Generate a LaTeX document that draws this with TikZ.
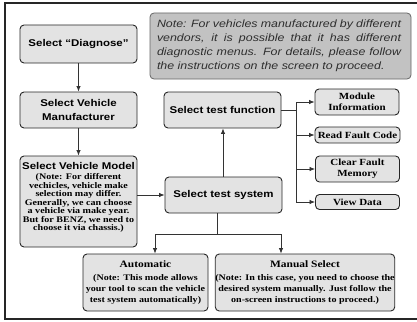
\documentclass[tikz,border=0pt]{standalone}
\usepackage{fontspec}
\usetikzlibrary{arrows.meta,calc}
\newfontfamily\hsans[FakeStretch=1.17]{Liberation Sans}
\newfontfamily\tserif[FakeStretch=1.17]{Liberation Serif}
\begin{document}
\begin{tikzpicture}[x=1pt,y=-1pt,
  box/.style={draw=black!85,line width=0.9pt,fill=black!11,rounded corners=4pt,inner sep=0pt,align=center},
  ttl/.style={font=\hsans\bfseries\fontsize{9.8}{12}\selectfont},
  rbox/.style={box,font=\tserif\bfseries\fontsize{9.4}{11}\selectfont},
  sbox/.style={box,font=\tserif\bfseries\fontsize{8.6}{11}\selectfont},
  conn/.style={draw=black!80,line width=0.8pt},
  arr/.style={conn,-{Latex[length=5.5pt,width=4.5pt]}}]
\useasboundingbox (0,0) rectangle (417,321);
\draw[line width=1.4pt,black!85] (5,3) rectangle (425,319);

% note
\node[draw=black!60,fill=black!24,rounded corners=4pt,line width=0.8pt,
      minimum width=261pt,minimum height=66pt,inner sep=0pt] (note) at (280.5,46) {};
\node[inner sep=0pt,align=left,text=black!82,
      font=\hsans\itshape\fontsize{10.6}{14}\selectfont] (notetxt) at (279,46)
 {\hbox to 244pt{Note: For vehicles manufactured by different}\\
  \hbox to 244pt{vendors, it is possible that it has different}\\
  \hbox to 244pt{diagnostic menus. For details, please follow}\\
  \hbox to 244pt{the instructions on the screen to proceed.\hfill}};

% left column
\node[box,ttl,minimum width=117pt,minimum height=38pt] (diag) at (78.5,44) {Select “Diagnose”};
\node[box,ttl,minimum width=117pt,minimum height=36pt] (manu) at (78.5,110) {Select Vehicle\\[2pt]Manufacturer};
\node[box,minimum width=117pt,minimum height=91pt] (model) at (78.5,201.5) {};
\node[ttl,inner sep=0pt] (modelttl) at (78.5,166) {Select Vehicle Model};
\node[inner sep=0pt,align=center,font=\tserif\bfseries\fontsize{8.6}{8.5}\selectfont] (modelbody) at (78.5,203)
 {(Note: For different\\vechicles, vehicle make\\selection may differ.\\Generally, we can choose\\a vehicle via make year.\\But for BENZ, we need to\\choose it via chassis.)};

% middle
\node[box,ttl,minimum width=117pt,minimum height=36pt] (tfun) at (222.5,110) {Select test function};
\node[box,ttl,minimum width=117pt,minimum height=36pt] (tsys) at (223.5,195) {Select test system};

% right boxes
\node[rbox,minimum width=84pt,minimum height=26pt] (mod) at (357,102) {Module\\Information};
\node[rbox,minimum width=85pt,minimum height=16pt] (rfc) at (357.5,135) {Read Fault Code};
\node[rbox,minimum width=84pt,minimum height=26pt] (cfm) at (357.5,169) {Clear Fault\\Memory};
\node[rbox,minimum width=84pt,minimum height=15pt] (view) at (357.5,202) {View Data};

% bottom boxes
\node[sbox,minimum width=125pt,minimum height=57pt] (auto) at (145.5,282.5)
 {{\fontsize{9.8}{11}\selectfont Automatic}\\[2pt](Note: This mode allows\\your tool to scan the vehicle\\test system automatically)};
\node[sbox,minimum width=176pt,minimum height=57pt] (man) at (305,282.5)
 {{\fontsize{9.8}{11}\selectfont Manual Select}\\[2pt](Note: In this case, you need to choose the\\desired system manually. Just follow the\\on-screen instructions to proceed.)};

% connectors
\draw[arr] (diag.south) -- (manu.north);
\draw[arr] (manu.south) -- (model.north);
\draw[arr] (model.east |- tsys.west) -- (tsys.west);
\draw[arr] (tsys.north -| 223,0) -- (tfun.south -| 223,0);

\coordinate (bus) at (296,110);
\draw[conn] (tfun.east) -- (bus);
\draw[conn] (bus |- mod.west) -- (bus |- view.west);
\draw[arr] (bus |- mod.west) -- (mod.west);
\draw[arr] (bus |- rfc.west) -- (rfc.west);
\draw[arr] (bus |- cfm.west) -- (cfm.west);
\draw[arr] (bus |- view.west) -- (view.west);

\coordinate (split) at (217,234);
\path (auto.north) ++(9.5,0) coordinate (ain);
\path (man.north) ++(-24,0) coordinate (min);
\draw[conn] (tsys.south -| split) -- (split);
\draw[conn] (ain |- split) -- (min |- split);
\draw[arr] (ain |- split) -- (ain);
\draw[arr] (min |- split) -- (min);
\end{tikzpicture}
\end{document}
